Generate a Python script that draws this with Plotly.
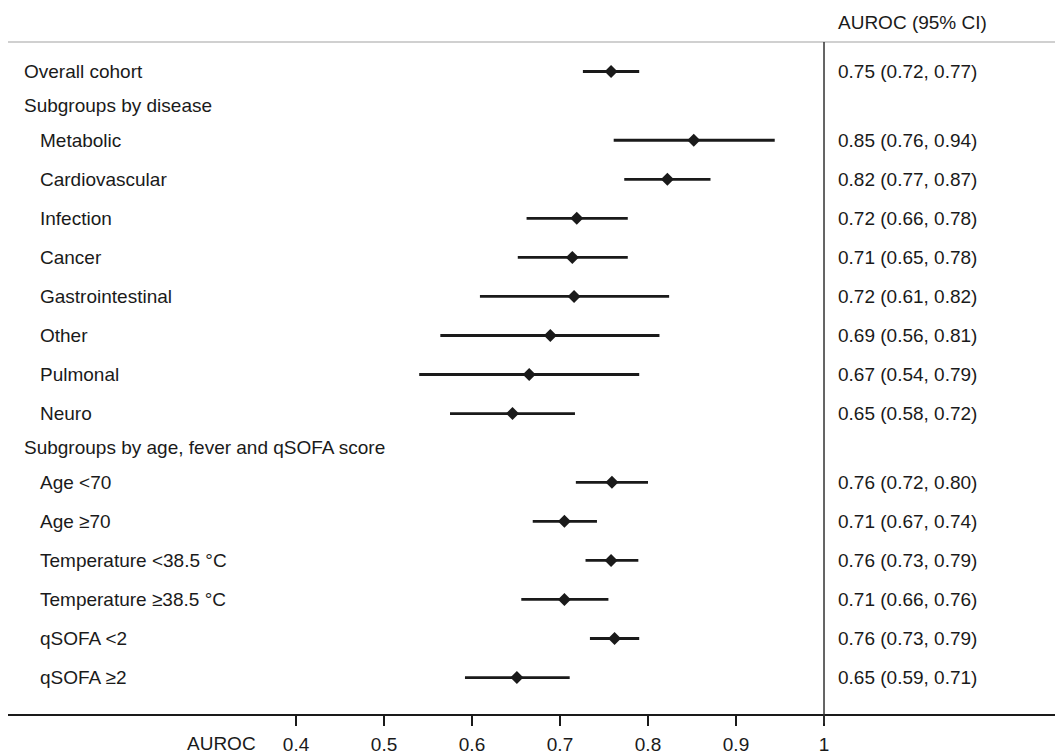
import plotly.graph_objects as go

# ---- data ----
labels = ["Overall cohort", "Subgroups by disease", "Metabolic", "Cardiovascular", "Infection",
          "Cancer", "Gastrointestinal", "Other", "Pulmonal", "Neuro",
          "Subgroups by age, fever and qSOFA score", "Age <70", "Age \u226570",
          "Temperature <38.5 \u00b0C", "Temperature \u226538.5 \u00b0C", "qSOFA <2", "qSOFA \u22652"]
kinds = ["top", "header", "item", "item", "item", "item", "item", "item", "item", "item",
         "header", "item", "item", "item", "item", "item", "item"]
estimate = [0.758, None, 0.852, 0.822, 0.719, 0.714, 0.716, 0.689, 0.665, 0.646,
            None, 0.759, 0.705, 0.758, 0.705, 0.762, 0.651]
ci_low = [0.726, None, 0.761, 0.773, 0.662, 0.652, 0.609, 0.564, 0.540, 0.575,
          None, 0.718, 0.669, 0.729, 0.656, 0.734, 0.592]
ci_high = [0.790, None, 0.944, 0.871, 0.777, 0.777, 0.824, 0.813, 0.790, 0.717,
           None, 0.800, 0.742, 0.789, 0.755, 0.790, 0.711]
ci_text = ["0.75 (0.72, 0.77)", "", "0.85 (0.76, 0.94)", "0.82 (0.77, 0.87)", "0.72 (0.66, 0.78)",
           "0.71 (0.65, 0.78)", "0.72 (0.61, 0.82)", "0.69 (0.56, 0.81)", "0.67 (0.54, 0.79)",
           "0.65 (0.58, 0.72)", "", "0.76 (0.72, 0.80)", "0.71 (0.67, 0.74)", "0.76 (0.73, 0.79)",
           "0.71 (0.66, 0.76)", "0.76 (0.73, 0.79)", "0.65 (0.59, 0.71)"]
tick_vals = [0.4, 0.5, 0.6, 0.7, 0.8, 0.9, 1.0]
tick_text = ["0.4", "0.5", "0.6", "0.7", "0.8", "0.9", "1"]
axis_title = "AUROC"
column_title = "AUROC (95% CI)"

# ---- row positions (header rows take a slightly smaller step) ----
ypos = []
y = 0.0
for i, k in enumerate(kinds):
    if i > 0:
        prev = kinds[i - 1]
        y += 0.88 if (k == "header" or prev == "header") else 1.0
    ypos.append(y)

INK = "#1a1a1a"
FONT = "Liberation Sans, Arial, sans-serif"
FS = 19

fig = go.Figure()

# CI lines
for yy, lo, hi in zip(ypos, ci_low, ci_high):
    if lo is None:
        continue
    fig.add_trace(go.Scatter(x=[lo, hi], y=[yy, yy], mode="lines",
                             line=dict(color=INK, width=2.8), hoverinfo="skip", showlegend=False))

# point estimates
px = [e for e in estimate if e is not None]
py = [yy for yy, e in zip(ypos, estimate) if e is not None]
fig.add_trace(go.Scatter(x=px, y=py, mode="markers",
                         marker=dict(symbol="diamond", size=10, color=INK),
                         showlegend=False))

annotations = []
for yy, lab, k, t in zip(ypos, labels, kinds, ci_text):
    annotations.append(dict(x=0, xref="paper", y=yy, yref="y", text=lab, showarrow=False,
                            xanchor="left", yanchor="middle",
                            xshift=(30 if k == "item" else 14),
                            font=dict(family=FONT, size=FS, color=INK)))
    if t:
        annotations.append(dict(x=1.0, xref="x", y=yy, yref="y", text=t, showarrow=False,
                                xanchor="left", yanchor="middle", xshift=12,
                                font=dict(family=FONT, size=FS, color=INK)))

annotations.append(dict(x=1.0, xref="x", y=1, yref="paper", text=column_title, showarrow=False,
                        xanchor="left", yanchor="middle", xshift=12, yshift=20,
                        font=dict(family=FONT, size=FS, color=INK)))
annotations.append(dict(x=0.4, xref="x", y=0, yref="paper", text=axis_title, showarrow=False,
                        xanchor="right", yanchor="middle", xshift=-38, yshift=-29,
                        font=dict(family=FONT, size=FS, color=INK)))

shapes = [
    dict(type="line", xref="paper", yref="paper", x0=0, x1=1, y0=1, y1=1,
         line=dict(color="#d0d0d0", width=2)),
    dict(type="line", xref="x", yref="paper", x0=1.0, x1=1.0, y0=-0.014, y1=1,
         line=dict(color="#333333", width=1.5)),
]

fig.update_layout(
    width=1055, height=755,
    margin=dict(l=8, r=0, t=42, b=33),
    paper_bgcolor="white", plot_bgcolor="white",
    annotations=annotations, shapes=shapes,
    xaxis=dict(range=[0.0727, 1.2625], tickvals=tick_vals, ticktext=tick_text,
               showgrid=False, zeroline=False, showline=True, linecolor=INK, linewidth=1.5,
               ticks="outside", ticklen=10, tickwidth=1.5, tickcolor=INK,
               ticklabelstandoff=2,
               tickfont=dict(family=FONT, size=FS, color=INK), fixedrange=True),
    yaxis=dict(range=[ypos[-1] + 0.934, -0.756], visible=False, showgrid=False,
               zeroline=False, fixedrange=True),
)

fig.write_html("out.html", config={"displayModeBar": False},
               post_script="document.body.style.margin='0';document.body.style.overflow='hidden';")
